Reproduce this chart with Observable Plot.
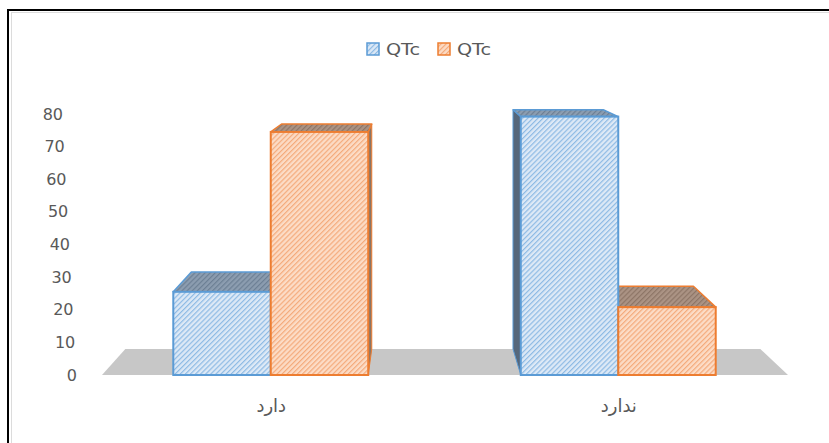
<!DOCTYPE html>
<html>
<head>
<meta charset="utf-8">
<script src="https://cdn.jsdelivr.net/npm/d3@7"></script>
<script src="https://cdn.jsdelivr.net/npm/@observablehq/plot@0.6"></script>
<style>
  body { margin: 0; background: #fff; }
  #wrap { position: relative; width: 829px; height: 443px; overflow: hidden; background: #fff;
          font-family: "DejaVu Sans", sans-serif; color: #595959; }
  .ln { position: absolute; }
  #legend { position: absolute; top: 41px; left: 366px; height: 16px; display: flex; align-items: center;
            font-size: 16px; color: #595959; white-space: nowrap; }
  #legend .sw { width: 14px; height: 14px; margin-right: 6px; display: block; }
  #legend .item { display: flex; align-items: center; margin-right: 13px; }
  #legend .lbl { display: inline-block; width: 38px; }
  #legend .lbl span { display: inline-block; transform: scaleX(1.2); transform-origin: left center; }
  #chart { position: absolute; top: 80px; left: 0; }
</style>
</head>
<body>
<svg width="0" height="0" style="position:absolute">
  <defs>
    <pattern id="pBlueFront" width="3.6" height="3.6" patternUnits="userSpaceOnUse" patternTransform="rotate(45)">
      <rect width="3.6" height="3.6" fill="#dde9f6"/><rect width="1.2" height="3.6" fill="#8dbae4"/>
    </pattern>
    <pattern id="pOrangeFront" width="3.6" height="3.6" patternUnits="userSpaceOnUse" patternTransform="rotate(45)">
      <rect width="3.6" height="3.6" fill="#fcdcc6"/><rect width="1.2" height="3.6" fill="#f4aa7b"/>
    </pattern>
    <pattern id="pBlueTop" width="3.6" height="3.6" patternUnits="userSpaceOnUse" patternTransform="rotate(45)">
      <rect width="3.6" height="3.6" fill="#8c9db0"/><rect width="1.2" height="3.6" fill="#6c7f94"/>
    </pattern>
    <pattern id="pOrangeTop" width="3.6" height="3.6" patternUnits="userSpaceOnUse" patternTransform="rotate(45)">
      <rect width="3.6" height="3.6" fill="#ab9384"/><rect width="1.2" height="3.6" fill="#8d7566"/>
    </pattern>
  </defs>
</svg>
<div id="wrap">
  <div class="ln" style="left:7px;top:9px;right:0;height:2px;background:#000"></div>
  <div class="ln" style="left:7px;top:9px;bottom:0;width:2px;background:#000"></div>
  <div class="ln" style="left:11px;top:12px;right:0;height:1px;background:#dcdcdc"></div>
  <div class="ln" style="left:11px;top:12px;bottom:0;width:1px;background:#dcdcdc"></div>
  <div id="legend"></div>
  <div id="chart"></div>
</div>
<script>
// ---- data ----
const categories = ["دارد", "ندارد"];
const seriesNames = ["QTc", "QTc"];
const blueValues = [25.5, 79.2];
const orangeValues = [74.5, 20.8];
const yTicks = [0, 10, 20, 30, 40, 50, 60, 70, 80];

// ---- style / layout constants ----
const colors = ["#5b9bd5", "#ed7d31"];
const frontFill = ["url(#pBlueFront)", "url(#pOrangeFront)"];
const topFill = ["url(#pBlueTop)", "url(#pOrangeTop)"];
const sideFill = ["#56677b", "#8a7566"];
const W = 829, H = 363, ML = 97, MR = 37, MT = 34, MB = 68;
const PAD_IN = 0.439, PAD_OUT = 0.2195;
const step = (W - ML - MR) / (categories.length - PAD_IN + 2 * PAD_OUT);
const bw = step * (1 - PAD_IN);
const half = bw / 2;
// perspective (vanishing point in svg px, depth factor)
const VX = 416, VY = -55, K = 0.0743;
const back = ([x, y]) => [x + K * (VX - x), y + K * (VY - y)];

const rows = [];
categories.forEach((c, i) => {
  rows.push({category: c, series: 0, value: blueValues[i]});
  rows.push({category: c, series: 1, value: orangeValues[i]});
});

// legend
const legend = document.getElementById("legend");
seriesNames.forEach((name, s) => {
  const item = document.createElement("div");
  item.className = "item";
  item.innerHTML = `<svg class="sw" width="14" height="14"><rect x="1" y="1" width="12" height="12" fill="${frontFill[s]}" stroke="${colors[s]}" stroke-width="1.5"/></svg><span class="lbl"><span>${name}</span></span>`;
  legend.appendChild(item);
});

const pts = (arr) => arr.map(p => p.join(",")).join(" ");

// floor + 3D top/side faces
function depthFaces(index, scales) {
  const x = scales.x, y = scales.y;
  const bwid = x.bandwidth ? x.bandwidth() : bw;
  const hw = bwid / 2;
  const g = d3.create("svg:g");
  const [r0, r1] = x.range();
  const y0 = y(0);
  const fl = [r0 + 5, y0], fr = [r1 - 4, y0];
  g.append("polygon").attr("points", pts([fl, fr, back(fr), back(fl)])).attr("fill", "#c7c7c7");
  const bars = rows.map(d => {
    const x1 = x(d.category) + d.series * hw, x2 = x1 + hw;
    return {...d, x1, x2, yt: y(d.value)};
  });
  bars.sort((a, b) => Math.abs((b.x1 + b.x2) / 2 - VX) - Math.abs((a.x1 + a.x2) / 2 - VX));
  for (const b of bars) {
    const tl = [b.x1, b.yt], tr = [b.x2, b.yt], bl = [b.x1, y0], br = [b.x2, y0];
    if (b.x2 < VX) {
      g.append("polygon").attr("points", pts([tr, br, back(br), back(tr)]))
        .attr("fill", sideFill[b.series]).attr("stroke", colors[b.series]).attr("stroke-width", 1);
    }
    if (b.x1 > VX) {
      g.append("polygon").attr("points", pts([tl, bl, back(bl), back(tl)]))
        .attr("fill", sideFill[b.series]).attr("stroke", colors[b.series]).attr("stroke-width", 1);
    }
    g.append("polygon").attr("points", pts([tl, tr, back(tr), back(tl)]))
      .attr("fill", topFill[b.series]).attr("stroke", colors[b.series]).attr("stroke-width", 1.5)
      .attr("stroke-linejoin", "round");
  }
  return g.node();
}

// y tick labels (slightly slanted by the 3D view)
function yLabels(index, scales) {
  const y = scales.y;
  const g = d3.create("svg:g").attr("font-family", "DejaVu Sans").attr("font-size", 16)
    .attr("fill", "#595959").attr("text-anchor", "end");
  for (const t of yTicks) {
    g.append("text").attr("x", ML - 20 - 0.175 * t).attr("y", y(t)).attr("dy", "0.35em").text(String(t));
  }
  return g.node();
}

const chart = Plot.plot({
  width: W, height: H,
  marginLeft: ML, marginRight: MR, marginTop: MT, marginBottom: MB,
  style: {fontFamily: "DejaVu Sans", fontSize: "18px", color: "#595959", background: "transparent", overflow: "visible"},
  x: {domain: categories, paddingInner: PAD_IN, paddingOuter: PAD_OUT, round: false,
      axis: "bottom", tickSize: 0, tickPadding: 24, label: null},
  y: {domain: [0, 80], axis: null},
  marks: [
    depthFaces,
    Plot.barY(rows.filter(d => d.series === 0), {x: "category", y: "value", fill: frontFill[0], stroke: colors[0], strokeWidth: 2, insetRight: half}),
    Plot.barY(rows.filter(d => d.series === 1), {x: "category", y: "value", fill: frontFill[1], stroke: colors[1], strokeWidth: 2, insetLeft: half}),
    yLabels
  ]
});
document.getElementById("chart").appendChild(chart);
</script>
</body>
</html>
